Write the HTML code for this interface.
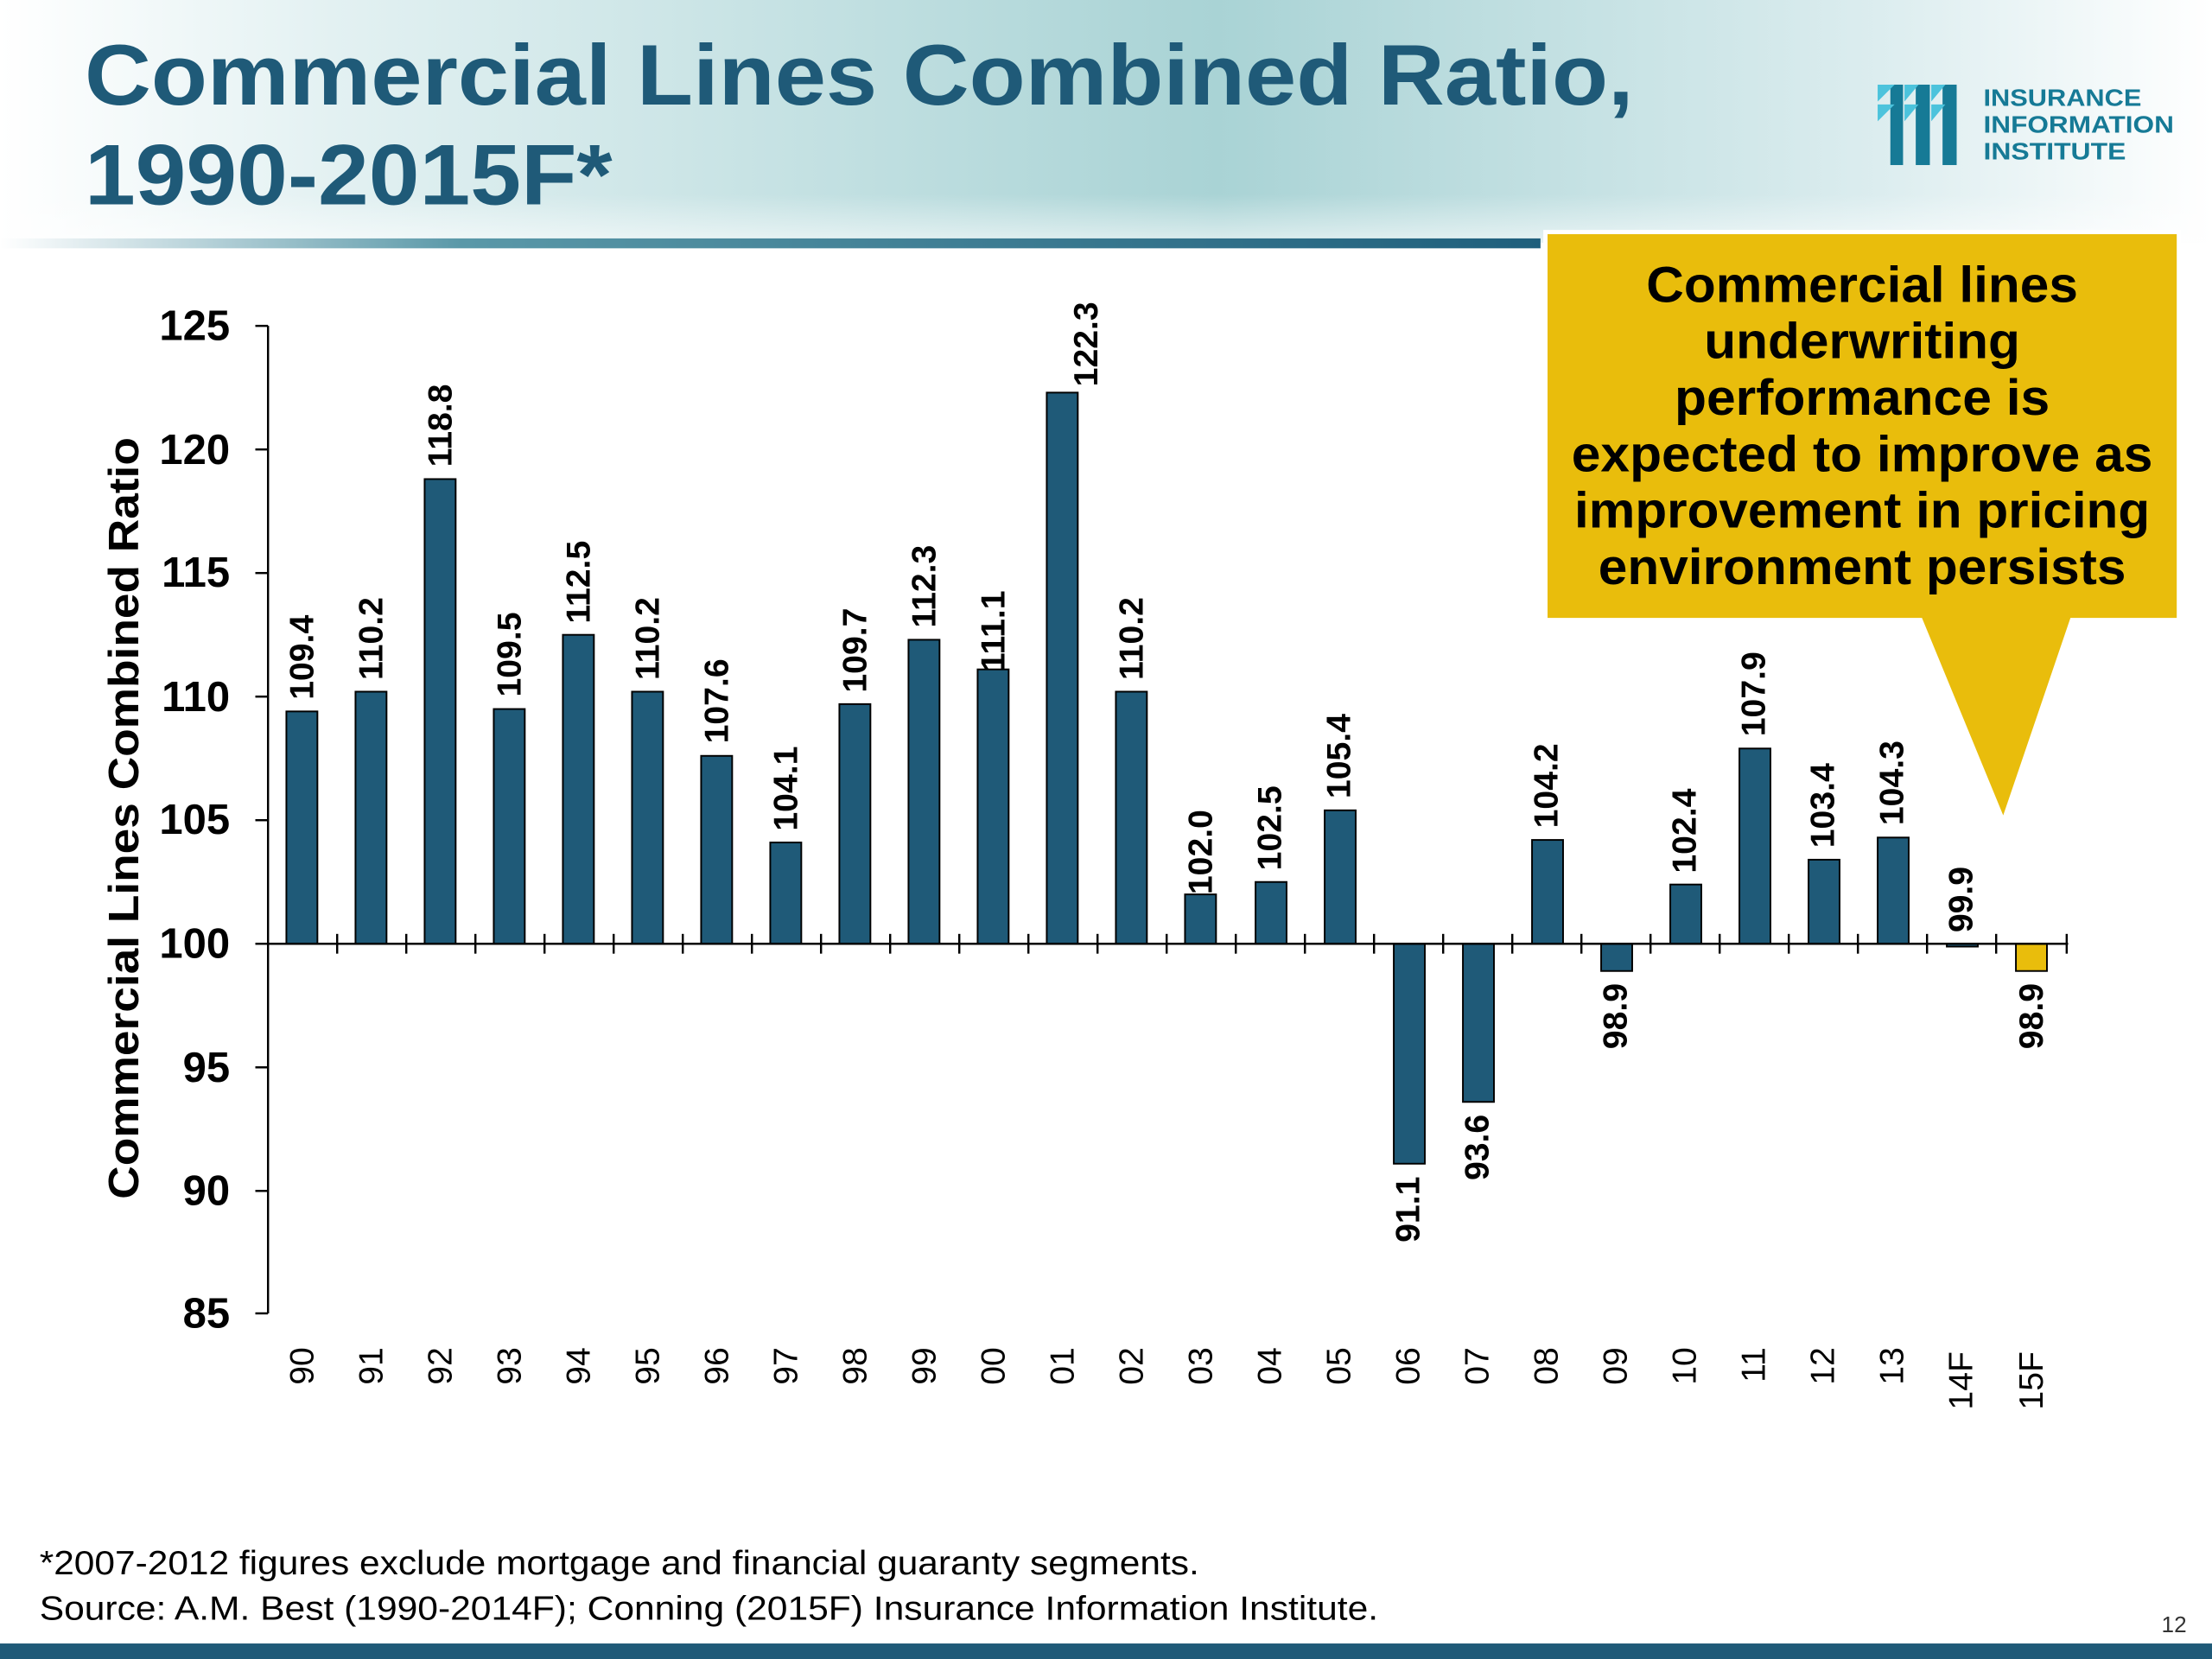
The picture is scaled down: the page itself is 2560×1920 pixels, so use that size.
<!DOCTYPE html>
<html><head><meta charset="utf-8"><style>
html,body{margin:0;padding:0;background:#fff}
svg{display:block}
text{font-family:"Liberation Sans",Arial,sans-serif}
</style></head><body>
<svg width="2560" height="1920" viewBox="0 0 1568 1176" xmlns="http://www.w3.org/2000/svg">
<defs>
<linearGradient id="hdr" x1="0" y1="0" x2="1" y2="0">
<stop offset="0" stop-color="#ffffff"/><stop offset="0.15" stop-color="#e3f1f2"/><stop offset="0.55" stop-color="#a9d3d5"/><stop offset="0.85" stop-color="#dcedef"/><stop offset="1" stop-color="#ffffff"/>
</linearGradient>
<linearGradient id="hdrv" x1="0" y1="0" x2="0" y2="1">
<stop offset="0" stop-color="#fff" stop-opacity="0"/><stop offset="0.8" stop-color="#fff" stop-opacity="0"/><stop offset="1" stop-color="#fff" stop-opacity="0.6"/>
</linearGradient>
<linearGradient id="rule" x1="0" y1="0" x2="1" y2="0">
<stop offset="0" stop-color="#ffffff"/><stop offset="0.3" stop-color="#5a98a8"/><stop offset="1" stop-color="#1f5f7c"/>
</linearGradient>
</defs>
<rect x="0" y="0" width="1568" height="172" fill="url(#hdr)"/>
<rect x="0" y="0" width="1568" height="172" fill="url(#hdrv)"/>
<rect x="0" y="169" width="1092" height="7" fill="url(#rule)"/>
<text x="60" y="74" font-size="61" font-weight="bold" fill="#1f5a78" textLength="1098" lengthAdjust="spacingAndGlyphs">Commercial Lines Combined Ratio,</text>
<text x="60" y="145" font-size="61" font-weight="bold" fill="#1f5a78" textLength="374" lengthAdjust="spacingAndGlyphs">1990-2015F*</text>
<!-- logo -->
<g fill="#167a96">
<rect x="1340" y="60" width="9" height="57"/><rect x="1358" y="60" width="10" height="57"/><rect x="1377" y="60" width="10" height="57"/>
<path d="M1331 60 L1343 60 L1331 72Z M1350 60 L1360 60 L1350 72Z M1369 60 L1379 60 L1369 72Z" fill="#4cc3dc"/>
<path d="M1331 74 L1343 74 L1331 86Z M1350 74 L1360 74 L1350 86Z M1369 74 L1379 74 L1369 86Z" fill="#4cc3dc"/>
</g>
<text x="1406" y="75" font-size="17" font-weight="bold" fill="#167a96" textLength="112" lengthAdjust="spacingAndGlyphs">INSURANCE</text>
<text x="1406" y="94" font-size="17" font-weight="bold" fill="#167a96" textLength="135" lengthAdjust="spacingAndGlyphs">INFORMATION</text>
<text x="1406" y="113" font-size="17" font-weight="bold" fill="#167a96" textLength="101" lengthAdjust="spacingAndGlyphs">INSTITUTE</text>
<!-- callout -->
<rect x="1094" y="163" width="452" height="278" fill="#fff"/>
<rect x="1097" y="166" width="446" height="272" fill="#e9bd0c"/>
<path d="M1362 437 L1468 437 L1420 578Z" fill="#e9bd0c"/>
<g font-size="36" font-weight="bold" fill="#000" text-anchor="middle" lengthAdjust="spacingAndGlyphs">
<text x="1320" y="214" textLength="306" lengthAdjust="spacingAndGlyphs">Commercial lines</text>
<text x="1320" y="254" textLength="224" lengthAdjust="spacingAndGlyphs">underwriting</text>
<text x="1320" y="294" textLength="266" lengthAdjust="spacingAndGlyphs">performance is</text>
<text x="1320" y="334" textLength="412" lengthAdjust="spacingAndGlyphs">expected to improve as</text>
<text x="1320" y="374" textLength="408" lengthAdjust="spacingAndGlyphs">improvement in pricing</text>
<text x="1320" y="414" textLength="374" lengthAdjust="spacingAndGlyphs">environment persists</text>
</g>
<!-- axes -->
<g stroke="#000" stroke-width="1.5">
<line x1="190" y1="231" x2="190" y2="931"/>
<line x1="181" y1="231" x2="190" y2="231"/><line x1="181" y1="318.6" x2="190" y2="318.6"/><line x1="181" y1="406.2" x2="190" y2="406.2"/><line x1="181" y1="493.8" x2="190" y2="493.8"/><line x1="181" y1="581.4" x2="190" y2="581.4"/><line x1="181" y1="669" x2="190" y2="669"/><line x1="181" y1="756.6" x2="190" y2="756.6"/><line x1="181" y1="844.2" x2="190" y2="844.2"/><line x1="181" y1="931" x2="190" y2="931"/>
</g>
<g font-size="30" font-weight="bold" text-anchor="end">
<text x="163" y="241">125</text><text x="163" y="329">120</text><text x="163" y="416">115</text><text x="163" y="504">110</text><text x="163" y="591">105</text><text x="163" y="679">100</text><text x="163" y="767">95</text><text x="163" y="854">90</text><text x="163" y="941">85</text>
</g>
<text transform="translate(98 580) rotate(-90)" font-size="30" font-weight="bold" text-anchor="middle" textLength="540" lengthAdjust="spacingAndGlyphs">Commercial Lines Combined Ratio</text>
<!-- bars -->
<g fill="#1f5a78" stroke="#000" stroke-width="1.2">
<rect x="203" y="504.3" width="22" height="164.7"/>
<rect x="252" y="490.3" width="22" height="178.7"/>
<rect x="301" y="339.6" width="22" height="329.4"/>
<rect x="350" y="502.6" width="22" height="166.4"/>
<rect x="399" y="450" width="22" height="219"/>
<rect x="448" y="490.3" width="22" height="178.7"/>
<rect x="497" y="535.8" width="22" height="133.2"/>
<rect x="546" y="597.2" width="22" height="71.8"/>
<rect x="595" y="499.1" width="22" height="169.9"/>
<rect x="644" y="453.5" width="22" height="215.5"/>
<rect x="693" y="474.5" width="22" height="194.5"/>
<rect x="742" y="278.3" width="22" height="390.7"/>
<rect x="791" y="490.3" width="22" height="178.7"/>
<rect x="840" y="634" width="22" height="35"/>
<rect x="890" y="625.2" width="22" height="43.8"/>
<rect x="939" y="574.4" width="22" height="94.6"/>
<rect x="988" y="669" width="22" height="155.9"/>
<rect x="1037" y="669" width="22" height="112.1"/>
<rect x="1086" y="595.4" width="22" height="73.6"/>
<rect x="1135" y="669" width="22" height="19.3"/>
<rect x="1184" y="627" width="22" height="42"/>
<rect x="1233" y="530.6" width="22" height="138.4"/>
<rect x="1282" y="609.4" width="22" height="59.6"/>
<rect x="1331" y="593.7" width="22" height="75.3"/>
<rect x="1380" y="669" width="22" height="2"/>
<rect x="1429" y="669" width="22" height="19.3" fill="#e9bd0c"/>
</g>
<!-- x axis -->
<g stroke="#000" stroke-width="1.5">
<line x1="190" y1="669" x2="1466" y2="669"/>
<line x1="239" y1="662" x2="239" y2="676"/><line x1="288" y1="662" x2="288" y2="676"/><line x1="337" y1="662" x2="337" y2="676"/><line x1="386" y1="662" x2="386" y2="676"/><line x1="435" y1="662" x2="435" y2="676"/><line x1="484" y1="662" x2="484" y2="676"/><line x1="533" y1="662" x2="533" y2="676"/><line x1="582" y1="662" x2="582" y2="676"/><line x1="631" y1="662" x2="631" y2="676"/><line x1="680" y1="662" x2="680" y2="676"/><line x1="729" y1="662" x2="729" y2="676"/><line x1="778" y1="662" x2="778" y2="676"/><line x1="827" y1="662" x2="827" y2="676"/><line x1="876" y1="662" x2="876" y2="676"/><line x1="925" y1="662" x2="925" y2="676"/><line x1="974" y1="662" x2="974" y2="676"/><line x1="1023" y1="662" x2="1023" y2="676"/><line x1="1072" y1="662" x2="1072" y2="676"/><line x1="1121" y1="662" x2="1121" y2="676"/><line x1="1170" y1="662" x2="1170" y2="676"/><line x1="1219" y1="662" x2="1219" y2="676"/><line x1="1268" y1="662" x2="1268" y2="676"/><line x1="1317" y1="662" x2="1317" y2="676"/><line x1="1366" y1="662" x2="1366" y2="676"/><line x1="1415" y1="662" x2="1415" y2="676"/><line x1="1465" y1="662" x2="1465" y2="676"/>
</g>
<!-- category labels -->
<g font-size="24" text-anchor="end">
<text transform="translate(222 955) rotate(-90)">90</text>
<text transform="translate(271 955) rotate(-90)">91</text>
<text transform="translate(320 955) rotate(-90)">92</text>
<text transform="translate(369 955) rotate(-90)">93</text>
<text transform="translate(418 955) rotate(-90)">94</text>
<text transform="translate(467 955) rotate(-90)">95</text>
<text transform="translate(516 955) rotate(-90)">96</text>
<text transform="translate(565 955) rotate(-90)">97</text>
<text transform="translate(614 955) rotate(-90)">98</text>
<text transform="translate(663 955) rotate(-90)">99</text>
<text transform="translate(712 955) rotate(-90)">00</text>
<text transform="translate(761 955) rotate(-90)">01</text>
<text transform="translate(810 955) rotate(-90)">02</text>
<text transform="translate(859 955) rotate(-90)">03</text>
<text transform="translate(908 955) rotate(-90)">04</text>
<text transform="translate(957 955) rotate(-90)">05</text>
<text transform="translate(1006 955) rotate(-90)">06</text>
<text transform="translate(1055 955) rotate(-90)">07</text>
<text transform="translate(1104 955) rotate(-90)">08</text>
<text transform="translate(1153 955) rotate(-90)">09</text>
<text transform="translate(1202 955) rotate(-90)">10</text>
<text transform="translate(1251 955) rotate(-90)">11</text>
<text transform="translate(1300 955) rotate(-90)">12</text>
<text transform="translate(1349 955) rotate(-90)">13</text>
<text transform="translate(1398 958) rotate(-90)">14F</text>
<text transform="translate(1448 958) rotate(-90)">15F</text>
</g>
<!-- value labels -->
<g font-size="24" font-weight="bold">
<text transform="translate(222 496) rotate(-90)">109.4</text>
<text transform="translate(271 482) rotate(-90)">110.2</text>
<text transform="translate(320 331) rotate(-90)">118.8</text>
<text transform="translate(369 494) rotate(-90)">109.5</text>
<text transform="translate(418 442) rotate(-90)">112.5</text>
<text transform="translate(467 482) rotate(-90)">110.2</text>
<text transform="translate(516 527) rotate(-90)">107.6</text>
<text transform="translate(565 589) rotate(-90)">104.1</text>
<text transform="translate(614 491) rotate(-90)">109.7</text>
<text transform="translate(663 445) rotate(-90)">112.3</text>
<text transform="translate(712 476) rotate(-90)">111.1</text>
<text transform="translate(778 274) rotate(-90)">122.3</text>
<text transform="translate(810 482) rotate(-90)">110.2</text>
<text transform="translate(859 634) rotate(-90)">102.0</text>
<text transform="translate(908 617) rotate(-90)">102.5</text>
<text transform="translate(957 566) rotate(-90)">105.4</text>
<text transform="translate(1104 587) rotate(-90)">104.2</text>
<text transform="translate(1202 619) rotate(-90)">102.4</text>
<text transform="translate(1251 522) rotate(-90)">107.9</text>
<text transform="translate(1300 601) rotate(-90)">103.4</text>
<text transform="translate(1349 585) rotate(-90)">104.3</text>
<text transform="translate(1398 661) rotate(-90)">99.9</text>
<g text-anchor="end">
<text transform="translate(1006 834) rotate(-90)">91.1</text>
<text transform="translate(1055 790) rotate(-90)">93.6</text>
<text transform="translate(1153 697) rotate(-90)">98.9</text>
<text transform="translate(1448 697) rotate(-90)">98.9</text>
</g>
</g>
<!-- footer -->
<text x="28" y="1116" font-size="24" textLength="822" lengthAdjust="spacingAndGlyphs">*2007-2012 figures exclude mortgage and financial guaranty segments.</text>
<text x="28" y="1148" font-size="24" textLength="949" lengthAdjust="spacingAndGlyphs">Source: A.M. Best (1990-2014F); Conning (2015F) Insurance Information Institute.</text>
<text x="1550" y="1157" font-size="16" text-anchor="end" fill="#333">12</text>
<rect x="0" y="1165" width="1568" height="11" fill="#1f5a78"/>
</svg>
</body></html>
